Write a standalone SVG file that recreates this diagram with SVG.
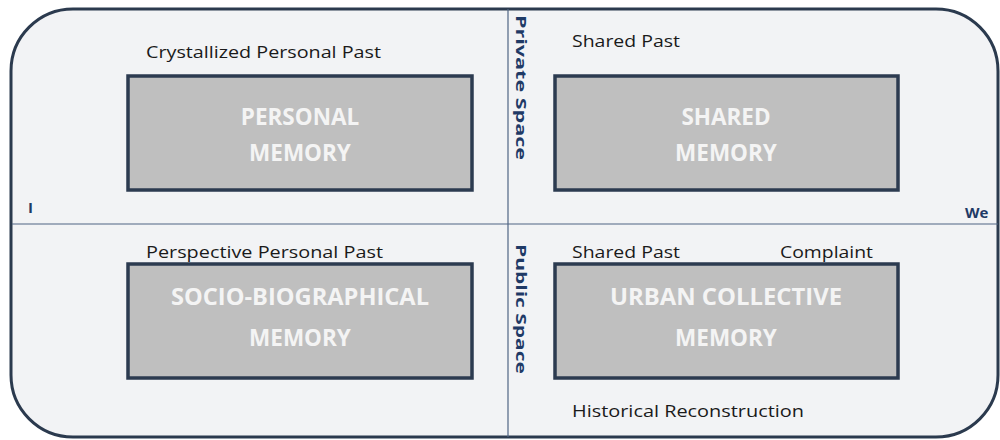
<svg xmlns="http://www.w3.org/2000/svg" width="1000" height="440" viewBox="0 0 1000 440">
<style>
.frame{fill:#f2f3f5;stroke:#2b3a4e;stroke-width:3}
.div{stroke:#4f6584;stroke-width:1.2;fill:none}
.box{fill:#bfbfbf;stroke:#2c3b50;stroke-width:3.5}
.lab{font-family:"Open Sans","Liberation Sans",sans-serif;font-size:17px;fill:#1a1a1a}
.mem{font-family:"Open Sans","Liberation Sans",sans-serif;font-size:22.5px;font-weight:bold;fill:#f4f4f4;text-anchor:middle}
.ax{font-family:"Open Sans","Liberation Sans",sans-serif;font-size:15px;font-weight:bold;fill:#1f3a66}
</style>
<rect width="1000" height="440" fill="#ffffff"/>
<rect class="frame" x="11" y="9" width="987" height="428" rx="62" ry="62"/>
<g id="connectors">
<line class="div" x1="12" y1="224" x2="998" y2="224"/>
<line class="div" x1="508" y1="9" x2="508" y2="437"/>
</g>
<g id="personal">
<rect class="box" x="128" y="76" width="344" height="114"/>
<text class="mem" x="300" y="125">PERSONAL</text>
<text class="mem" x="300" y="161">MEMORY</text>
</g>
<g id="shared">
<rect class="box" x="555" y="76" width="343" height="114"/>
<text class="mem" x="726" y="125">SHARED</text>
<text class="mem" x="726" y="161">MEMORY</text>
</g>
<g id="socio">
<rect class="box" x="128" y="264" width="344" height="114"/>
<text class="mem" x="300" y="305" textLength="258" lengthAdjust="spacingAndGlyphs">SOCIO-BIOGRAPHICAL</text>
<text class="mem" x="300" y="346">MEMORY</text>
</g>
<g id="urban">
<rect class="box" x="555" y="264" width="343" height="114"/>
<text class="mem" x="726" y="305" textLength="232" lengthAdjust="spacingAndGlyphs">URBAN COLLECTIVE</text>
<text class="mem" x="726" y="346">MEMORY</text>
</g>
<g id="labels">
<text class="lab" x="146" y="58" textLength="235" lengthAdjust="spacingAndGlyphs">Crystallized Personal Past</text>
<text class="lab" x="572" y="47" textLength="108" lengthAdjust="spacingAndGlyphs">Shared Past</text>
<text class="lab" x="146" y="258" textLength="237" lengthAdjust="spacingAndGlyphs">Perspective Personal Past</text>
<text class="lab" x="572" y="258" textLength="108" lengthAdjust="spacingAndGlyphs">Shared Past</text>
<text class="lab" x="780" y="258" textLength="93" lengthAdjust="spacingAndGlyphs">Complaint</text>
<text class="lab" x="572" y="417" textLength="232" lengthAdjust="spacingAndGlyphs">Historical Reconstruction</text>
<text class="ax" x="28" y="213">I</text>
<text class="ax" x="965" y="218">We</text>
<text class="ax" transform="translate(516,15) rotate(90)" textLength="145" lengthAdjust="spacingAndGlyphs">Private Space</text>
<text class="ax" transform="translate(516,244) rotate(90)" textLength="130" lengthAdjust="spacingAndGlyphs">Public Space</text>
</g>
</svg>
